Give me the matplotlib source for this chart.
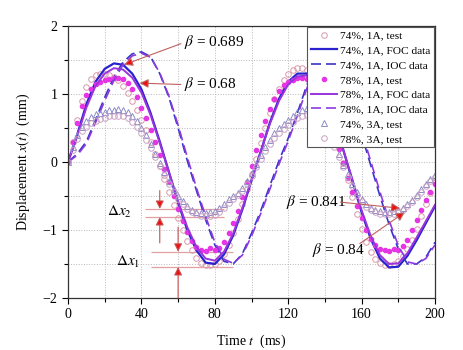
import matplotlib
matplotlib.use("Agg")
import matplotlib.pyplot as plt
from matplotlib.ticker import MultipleLocator

plt.rcParams["font.family"] = ["Liberation Serif", "DejaVu Serif"]
plt.rcParams["mathtext.fontset"] = "stix"

# model curves, sampled every 5 ms
t_model = list(range(0, 201, 5))
foc_74 = [0.00, 0.40, 0.85, 1.18, 1.37, 1.45, 1.43, 1.30, 1.07, 0.72, 0.30,
          -0.15, -0.60, -1.00, -1.30, -1.48, -1.50, -1.36, -1.08, -0.70, -0.27,
          0.15, 0.58, 0.93, 1.18, 1.30, 1.30, 1.18, 0.95, 0.60, 0.18,
          -0.28, -0.74, -1.13, -1.42, -1.55, -1.54, -1.38, -1.15, -0.90, -0.65]
foc_78 = [0.00, 0.38, 0.80, 1.12, 1.30, 1.38, 1.36, 1.24, 1.02, 0.69, 0.28,
          -0.15, -0.58, -0.96, -1.25, -1.42, -1.45, -1.32, -1.05, -0.68, -0.26,
          0.15, 0.56, 0.90, 1.14, 1.26, 1.27, 1.15, 0.93, 0.59, 0.18,
          -0.26, -0.71, -1.09, -1.37, -1.50, -1.49, -1.34, -1.11, -0.87, -0.63]
ioc_74 = [0.00, 0.12, 0.30, 0.62, 0.95, 1.25, 1.47, 1.59, 1.62, 1.55, 1.30,
          0.95, 0.50, 0.02, -0.42, -0.85, -1.22, -1.46, -1.50, -1.35, -1.05,
          -0.72, -0.35, 0.02, 0.35, 0.72, 1.12, 1.45, 1.58, 1.50, 1.22,
          0.82, 0.40, -0.05, -0.50, -0.92, -1.28, -1.50, -1.50, -1.40, -1.18]
ioc_78 = [0.00, 0.10, 0.27, 0.58, 0.90, 1.20, 1.43, 1.56, 1.60, 1.54, 1.31,
          0.97, 0.54, 0.07, -0.38, -0.80, -1.18, -1.43, -1.49, -1.37, -1.09,
          -0.76, -0.40, -0.03, 0.31, 0.68, 1.07, 1.40, 1.55, 1.50, 1.25,
          0.87, 0.45, 0.01, -0.44, -0.86, -1.23, -1.47, -1.50, -1.42, -1.22]

# test records, sampled every 2.5 ms
t_test = [i * 2.5 for i in range(81)]
test_74_1a = [0.00, 0.30, 0.62, 0.90, 1.10, 1.22, 1.28, 1.30, 1.30, 1.28,
              1.25, 1.20, 1.12, 1.02, 0.90, 0.76, 0.62, 0.47, 0.30, 0.12,
              -0.06, -0.25, -0.44, -0.63, -0.82, -1.00, -1.16, -1.30, -1.41, -1.48,
              -1.52, -1.52, -1.50, -1.45, -1.36, -1.22, -1.04, -0.84, -0.62, -0.40,
              -0.18, 0.05, 0.28, 0.50, 0.72, 0.92, 1.08, 1.20, 1.29, 1.35,
              1.38, 1.38, 1.36, 1.30, 1.20, 1.06, 0.88, 0.68, 0.46, 0.22,
              -0.02, -0.27, -0.52, -0.76, -0.98, -1.17, -1.32, -1.43, -1.49, -1.52,
              -1.52, -1.50, -1.45, -1.38, -1.28, -1.14, -0.98, -0.80, -0.62, -0.45,
              -0.30]
test_78_1a = [0.00, 0.30, 0.58, 0.82, 0.98, 1.08, 1.14, 1.18, 1.20, 1.22,
              1.23, 1.24, 1.22, 1.16, 1.07, 0.95, 0.80, 0.64, 0.47, 0.29,
              0.10, -0.10, -0.30, -0.50, -0.69, -0.87, -1.03, -1.16, -1.25, -1.30,
              -1.31, -1.27, -1.30, -1.26, -1.18, -1.05, -0.90, -0.72, -0.52, -0.30,
              -0.06, 0.18, 0.40, 0.60, 0.78, 0.93, 1.05, 1.13, 1.18, 1.21,
              1.23, 1.24, 1.22, 1.16, 1.06, 0.93, 0.78, 0.60, 0.40, 0.19,
              -0.02, -0.23, -0.44, -0.64, -0.83, -1.00, -1.13, -1.22, -1.28, -1.30,
              -1.31, -1.28, -1.30, -1.24, -1.14, -1.00, -0.85, -0.70, -0.56, -0.44,
              -0.33]
test_74_3a = [0.00, 0.22, 0.40, 0.52, 0.60, 0.66, 0.70, 0.72, 0.74, 0.76,
              0.77, 0.78, 0.77, 0.74, 0.68, 0.60, 0.50, 0.39, 0.26, 0.12,
              -0.02, -0.15, -0.28, -0.40, -0.50, -0.58, -0.65, -0.70, -0.73, -0.75,
              -0.75, -0.74, -0.72, -0.68, -0.62, -0.55, -0.50, -0.45, -0.38, -0.28,
              -0.16, -0.03, 0.10, 0.22, 0.33, 0.42, 0.50, 0.56, 0.62, 0.68,
              0.73, 0.77, 0.79, 0.77, 0.72, 0.64, 0.54, 0.42, 0.28, 0.12,
              -0.04, -0.18, -0.32, -0.44, -0.54, -0.62, -0.67, -0.70, -0.72, -0.73,
              -0.73, -0.72, -0.70, -0.67, -0.62, -0.56, -0.48, -0.40, -0.32, -0.25,
              -0.19]
test_78_3a = [0.00, 0.18, 0.34, 0.45, 0.52, 0.57, 0.61, 0.63, 0.65, 0.67,
              0.68, 0.68, 0.67, 0.64, 0.59, 0.52, 0.43, 0.33, 0.21, 0.08,
              -0.06, -0.19, -0.32, -0.44, -0.54, -0.62, -0.69, -0.74, -0.77, -0.79,
              -0.80, -0.80, -0.78, -0.74, -0.68, -0.61, -0.55, -0.49, -0.42, -0.32,
              -0.20, -0.08, 0.05, 0.16, 0.26, 0.35, 0.42, 0.48, 0.54, 0.59,
              0.64, 0.68, 0.69, 0.67, 0.62, 0.55, 0.46, 0.35, 0.22, 0.07,
              -0.08, -0.22, -0.36, -0.48, -0.58, -0.66, -0.71, -0.74, -0.76, -0.77,
              -0.77, -0.76, -0.74, -0.70, -0.65, -0.59, -0.52, -0.44, -0.36, -0.28,
              -0.22]

# delta-x reference levels
dx2_levels = [-0.69, -0.81]
dx1_levels = [-1.32, -1.545]

fig = plt.figure(figsize=(4.64, 3.5), dpi=100)
ax = fig.add_axes([0.1466, 0.1486, 0.7909, 0.7771])

ax.plot(t_test, test_74_1a, "o", ms=4, mfc="none", mec="#d99aaa", mew=0.7,
        label="74%, 1A, test")
ax.plot(t_model, foc_74, "-", color="#2a22cf", lw=1.6, label="74%, 1A, FOC data")
ax.plot(t_model, ioc_74, "--", color="#3a33c8", lw=1.2, dashes=(6, 3),
        label="74%, 1A, IOC data")
ax.plot(t_test, test_78_1a, "o", ms=3, color="#e535e5", mec="#e535e5",
        label="78%, 1A, test")
ax.plot(t_model, foc_78, "-", color="#9a34dc", lw=1.4, label="78%, 1A, FOC data")
ax.plot(t_model, ioc_78, "--", color="#8a3ae0", lw=1.2, dashes=(6, 3),
        label="78%, 1A, IOC data")
ax.plot(t_test, test_74_3a, "^", ms=4, mfc="none", mec="#8c8cc8", mew=0.7,
        label="74%, 3A, test")
ax.plot(t_test, test_78_3a, "o", ms=4, mfc="none", mec="#c9a2c4", mew=0.7,
        label="78%, 3A, test")

# delta-x guide lines and arrows
ref_kw = dict(color="#e3a0a0", lw=0.9, zorder=1)
ax.hlines(dx2_levels, 42, 85, **ref_kw)
ax.hlines(dx1_levels, 45, 90, **ref_kw)

arrow_kw = dict(arrowstyle="-|>", ec="#c85050", fc="#ee1010", lw=0.8,
                mutation_scale=12, shrinkA=0, shrinkB=0)
ax.annotate("", xy=(50, dx2_levels[0]), xytext=(50, -0.42), arrowprops=arrow_kw)
ax.annotate("", xy=(50, dx2_levels[1]), xytext=(50, -1.19), arrowprops=arrow_kw)
ax.annotate("", xy=(60, dx1_levels[0]), xytext=(60, -0.96), arrowprops=arrow_kw)
ax.annotate("", xy=(60, dx1_levels[1]), xytext=(60, -2.0), arrowprops=arrow_kw,
            annotation_clip=False)
ax.text(21, -0.74, r"$\Delta x_2$", fontsize=11, va="center")
ax.text(26, -1.47, r"$\Delta x_1$", fontsize=11, va="center")

# beta annotations: text first, then arrow from an explicit start point
beta_kw = dict(arrowstyle="-|>", ec="#c06060", fc="#ee1010", lw=0.8,
               mutation_scale=13, shrinkA=0, shrinkB=0)
ax.text(63, 1.76, r"$\beta$ = 0.689", fontsize=11, va="center")
ax.annotate("", xy=(30.5, 1.43), xytext=(61.5, 1.74), arrowprops=beta_kw)
ax.text(63, 1.14, r"$\beta$ = 0.68", fontsize=11, va="center")
ax.annotate("", xy=(39, 1.16), xytext=(61.5, 1.14), arrowprops=beta_kw)
ax.text(119, -0.59, r"$\beta$ = 0.841", fontsize=11, va="center")
ax.annotate("", xy=(181, -0.68), xytext=(148.5, -0.59), arrowprops=beta_kw)
ax.text(133, -1.29, r"$\beta$ = 0.84", fontsize=11, va="center")
ax.annotate("", xy=(183.5, -0.74), xytext=(159, -1.2), arrowprops=beta_kw)

ax.set_xlim(0, 200)
ax.set_ylim(-2, 2)
ax.xaxis.set_major_locator(MultipleLocator(40))
ax.xaxis.set_minor_locator(MultipleLocator(20))
ax.yaxis.set_major_locator(MultipleLocator(1))
ax.yaxis.set_minor_locator(MultipleLocator(0.5))
ax.tick_params(which="major", direction="out", length=4, width=0.8, labelsize=10)
ax.tick_params(which="minor", direction="out", length=3, width=0.8)
ax.grid(which="both", ls=":", lw=0.7, color="#b8b8b8")
ax.set_axisbelow(True)
for s in ax.spines.values():
    s.set_linewidth(0.9)
    s.set_color("#333333")

ax.set_xlabel(r"Time $t$  (ms)", fontsize=10, labelpad=8)
ax.set_ylabel(r"Displacement $x(t)$  (mm)", fontsize=10, labelpad=8)

leg = ax.legend(loc="upper right", fontsize=8.2, handlelength=2.3, handletextpad=0.3,
                labelspacing=0.42, borderpad=0.3, borderaxespad=0.1,
                fancybox=False, framealpha=1, edgecolor="#555555")
leg.get_frame().set_linewidth(0.8)
leg.set_zorder(5)

fig.savefig("out.png", dpi=100)
